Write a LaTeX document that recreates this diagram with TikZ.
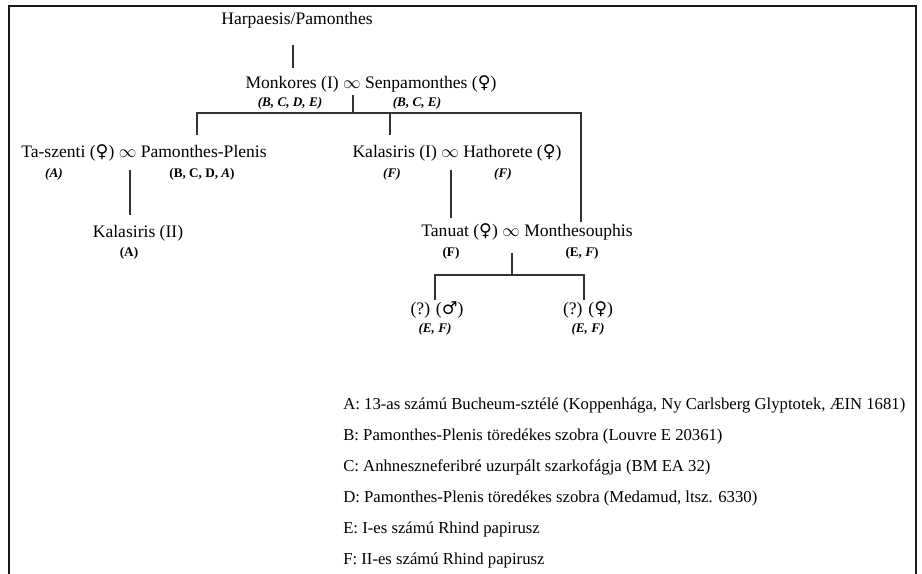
\documentclass[tikz,border=0pt]{standalone}
\usepackage{fontspec}
\setmainfont{Liberation Serif}
\newfontfamily\gsym{DejaVu Serif}
\newcommand{\fem}{{\gsym ♀}}
\newcommand{\mal}{{\gsym ♂}}
\usetikzlibrary{positioning}
\tikzset{
	person/.style={inner sep=1pt, font=\fontsize{12}{14}\selectfont},
	src/.style={inner sep=1pt, font=\fontsize{9}{10}\selectfont\bfseries},
	srcline/.style={anchor=west, inner sep=0pt, font=\fontsize{11.4}{14}\selectfont},
	kin/.style={line width=1.1pt, black!80}
}
\begin{document}
\begin{tikzpicture}
		[x=0.024cm, y=-0.024cm]
		\useasboundingbox (0,0) rectangle (922,574);
		\draw[line width=1.2pt, black!90] (9,574) -- (9,6) -- (916,6) -- (916,574);
		% junctions
		\coordinate (top) at (293,45);
		\coordinate (monkTop) at (293,68);
		\coordinate (monkInf) at (353,95);
		\coordinate (bar1M) at (353,113);
		\coordinate (bar1L) at (197,113);
		\coordinate (bar1C) at (390,113);
		\coordinate (bar1R) at (581,113);
		\coordinate (taTop) at (197,135);
		\coordinate (kaTop) at (390,135);
		\coordinate (moTop) at (581,222);
		\coordinate (taInf) at (130,170);
		\coordinate (k2Top) at (130,215);
		\coordinate (kaInf) at (451,170);
		\coordinate (tnTop) at (451,218);
		\coordinate (tnInf) at (512,253);
		\coordinate (bar2M) at (512,275);
		\coordinate (bar2L) at (435,275);
		\coordinate (bar2R) at (584,275);
		\coordinate (c1Top) at (435,300);
		\coordinate (c2Top) at (584,300);
		% names
		\node[person] (harp) at (297,20) {Harpaesis/Pamonthes};
		\node[person] (monk) at (371,84) {Monkores (I) $\infty$ Senpamonthes (\fem)};
		\node[src] (monkS) at (290,103) {\textit{(B, C, D, E)}};
		\node[src] (senpS) at (417,103) {\textit{(B, C, E)}};
		\node[person] (tasz) at (144,153) {Ta-szenti (\fem) $\infty$ Pamonthes-Plenis};
		\node[src] (taszS) at (54,174) {\textit{(A)}};
		\node[src] (pampS) at (202,174) {(B, C, D, \textit{A})};
		\node[person] (kal2) at (138,233) {Kalasiris (II)};
		\node[src] (kal2S) at (129,253) {(A)};
		\node[person] (kal1) at (457,153) {Kalasiris (I) $\infty$ Hathorete (\fem)};
		\node[src] (kal1S) at (392,174) {\textit{(F)}};
		\node[src] (hathS) at (503,174) {\textit{(F)}};
		\node[person] (tanu) at (527,232) {Tanuat (\fem) $\infty$ Monthesouphis};
		\node[src] (tanuS) at (451,253) {(F)};
		\node[src] (montS) at (582,253) {(E, \textit{F})};
		\node[person] (son) at (437,310) {(?) (\mal)};
		\node[src] (sonS) at (435,329) {\textit{(E, F)}};
		\node[person] (dau) at (588,310) {(?) (\fem)};
		\node[src] (dauS) at (588,329) {\textit{(E, F)}};
		% lines
		\draw[kin] (top) -- (monkTop);
		\draw[kin] (monkInf) -- (bar1M);
		\draw[kin] (taTop) -- (bar1L) -- (bar1R) -- (moTop);
		\draw[kin] (bar1C) -- (kaTop);
		\draw[kin] (taInf) -- (k2Top);
		\draw[kin] (kaInf) -- (tnTop);
		\draw[kin] (tnInf) -- (bar2M);
		\draw[kin] (c1Top) -- (bar2L) -- (bar2R) -- (c2Top);
		% sources
		\foreach \txt [count=\i] in {
			{A: 13-as számú Bucheum-sztélé (Koppenhága, Ny Carlsberg Glyptotek, ÆIN 1681)},
			{B: Pamonthes-Plenis töredékes szobra (Louvre E 20361)},
			{C: Anhneszneferibré uzurpált szarkofágja (BM EA 32)},
			{D: Pamonthes-Plenis töredékes szobra (Medamud, ltsz. 6330)},
			{E: I-es számú Rhind papirusz},
			{F: II-es számú Rhind papirusz}}
			\node[srcline] (leg\i) at (343,374+31*\i) {\txt};
	\end{tikzpicture}
\end{document}
